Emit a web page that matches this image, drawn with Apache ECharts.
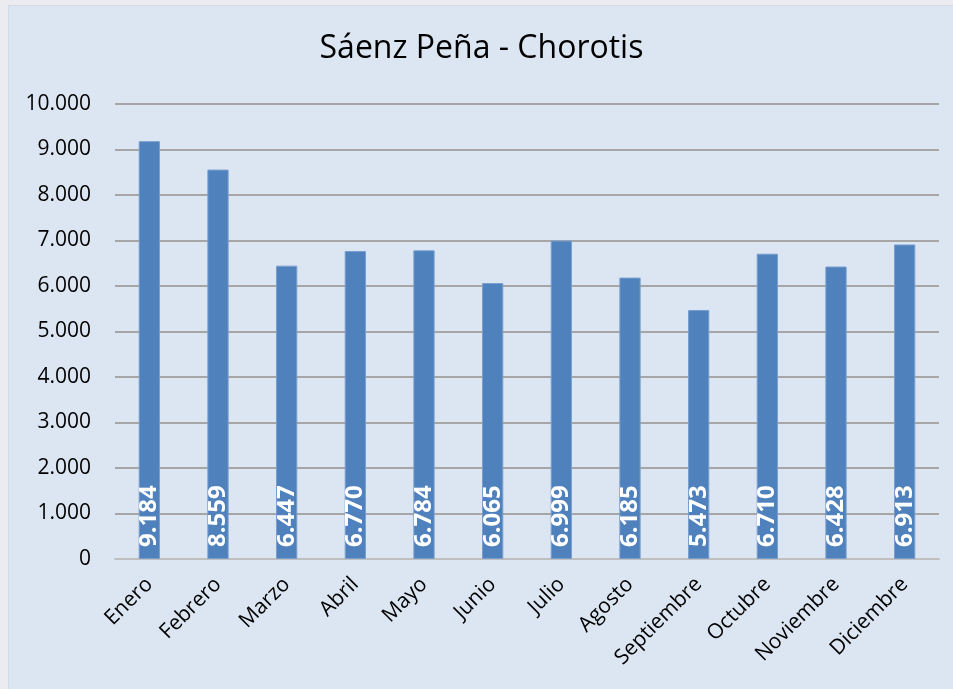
<!DOCTYPE html>
<html>
<head>
<meta charset="utf-8">
<script src="https://cdn.jsdelivr.net/npm/echarts@6/dist/echarts.min.js"></script>
<style>
  body { margin: 0; background: #ebebf0; }
  #chart {
    position: absolute;
    left: 8px;
    top: 5px;
    width: 945px;
    height: 684px;
    background: #dce6f2;
    border-left: 1px solid #d4dbe6;
    border-top: 1px solid #d4dbe6;
  }
</style>
</head>
<body>
<div id="chart"></div>
<script>
const months = ["Enero", "Febrero", "Marzo", "Abril", "Mayo", "Junio", "Julio",
  "Agosto", "Septiembre", "Octubre", "Noviembre", "Diciembre"];
const values = [9184, 8559, 6447, 6770, 6784, 6065, 6999, 6185, 5473, 6710, 6428, 6913];
const yTicks = [0, 1000, 2000, 3000, 4000, 5000, 6000, 7000, 8000, 9000, 10000];

// 9184 -> "9.184"
const fmt = (v) => String(v).replace(/\B(?=(\d{3})+(?!\d))/g, ".");

const chart = echarts.init(document.getElementById("chart"));
chart.setOption({
  textStyle: { fontFamily: "Open Sans" },
  title: {
    text: "Sáenz Peña - Chorotis",
    left: "center",
    top: 22,
    textStyle: { fontSize: 32, fontWeight: "normal", color: "#000" },
  },
  grid: { left: 106, right: 15, top: 98, bottom: 131 },
  xAxis: {
    type: "category",
    data: months,
    axisTick: { show: false },
    axisLine: { lineStyle: { color: "#bfbfbf", width: 2 } },
    axisLabel: { rotate: 45, fontSize: 21, color: "#000", margin: 22, interval: 0 },
  },
  yAxis: {
    type: "value",
    min: yTicks[0],
    max: yTicks[yTicks.length - 1],
    interval: 1000,
    axisLabel: { fontSize: 21, color: "#000", margin: 24, formatter: fmt },
    splitLine: { lineStyle: { color: "#a6a6a6", width: 2 } },
  },
  series: [
    {
      type: "bar",
      data: values,
      barWidth: "31%",
      itemStyle: { color: "#4f81bd", borderColor: "#7a9fcf", borderWidth: 1 },
      label: {
        show: true,
        position: "insideBottom",
        rotate: 90,
        align: "left",
        verticalAlign: "middle",
        distance: 12,
        color: "#fff",
        fontWeight: "bold",
        fontSize: 24,
        formatter: (p) => fmt(p.value),
      },
    },
  ],
});
</script>
</body>
</html>
